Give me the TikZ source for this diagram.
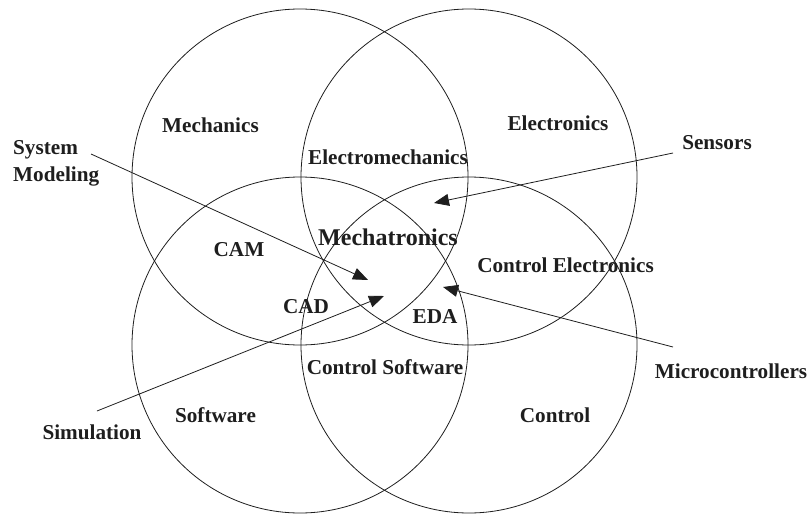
\documentclass[tikz,border=0pt]{standalone}
\usepackage{fontspec}
\setmainfont{Liberation Serif}
\usetikzlibrary{arrows.meta}
\definecolor{ink}{HTML}{1E1E1E}
\tikzset{
  ring/.style={draw=ink, line width=0.8pt},
  lbl/.style={inner sep=0pt, text=ink, font=\fontsize{21.2}{27}\selectfont\bfseries},
  biglbl/.style={inner sep=0pt, text=ink, font=\fontsize{24}{28}\selectfont\bfseries},
  pointer/.style={draw=ink, line width=0.8pt, -{Triangle[length=15pt,width=12pt]}}
}
\begin{document}
\begin{tikzpicture}[x=1pt,y=-1pt]
\useasboundingbox (0,0) rectangle (810,516);
% circles
\draw[ring] (300,177) circle[radius=168];
\draw[ring] (469,177) circle[radius=168];
\draw[ring] (300,345) circle[radius=168];
\draw[ring] (469,345) circle[radius=168];
% labels
\node[lbl] (mech) at (210.5,125) {Mechanics};
\node[lbl] (elec) at (558,123) {Electronics};
\node[lbl] (emech) at (388,157) {Electromechanics};
\node[biglbl] (mtr) at (388,237) {Mechatronics};
\node[lbl] (cam) at (239,250) {CAM};
\node[lbl] (cad) at (306,307) {CAD};
\node[lbl] (eda) at (435,317) {EDA};
\node[lbl] (cel) at (565.5,265) {Control Electronics};
\node[lbl] (csw) at (385,367) {Control Software};
\node[lbl] (sw) at (215.5,415) {Software};
\node[lbl] (ctl) at (555,415) {Control};
\node[lbl, align=left, anchor=west] (sysmod) at (13,163) {System\\Modeling};
\node[lbl] (sim) at (92,432) {Simulation};
\node[lbl] (sens) at (717,143) {Sensors};
\node[lbl] (micro) at (731,371) {Microcontrollers};
% arrow ends
\coordinate (smA) at (91,154);
\coordinate (smB) at (368,280);
\coordinate (siA) at (97,411);
\coordinate (siB) at (384,296);
\coordinate (seA) at (673,153);
\coordinate (seB) at (434,203);
\coordinate (miA) at (673,347);
\coordinate (miB) at (443,287);
\draw[pointer] (smA) -- (smB);
\draw[pointer] (siA) -- (siB);
\draw[pointer] (seA) -- (seB);
\draw[pointer] (miA) -- (miB);
\end{tikzpicture}
\end{document}
